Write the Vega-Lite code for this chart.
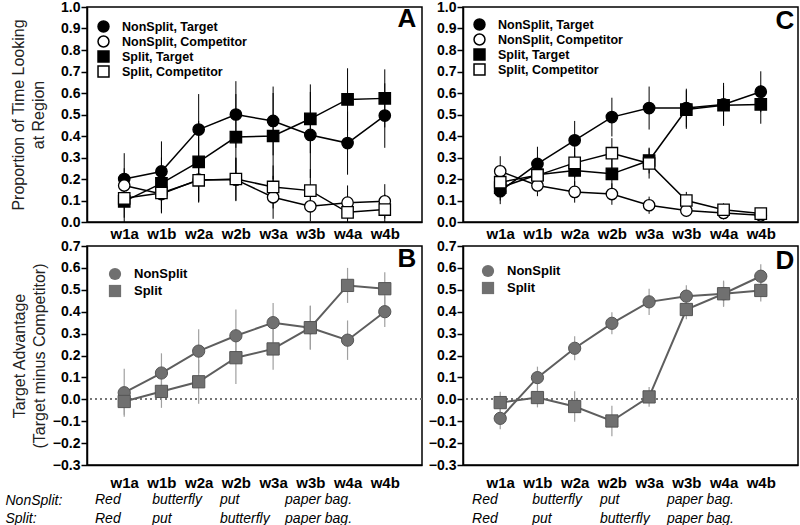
{
  "$schema": "https://vega.github.io/schema/vega-lite/v6.json",
  "padding": {"left": 5, "top": -1, "right": 0, "bottom": 0},
  "background": "white",
  "config": {
    "font": "Liberation Sans",
    "view": {"stroke": "black", "strokeWidth": 1.5},
    "axis": {
      "grid": false,
      "domainColor": "black",
      "domainWidth": 1.5,
      "tickColor": "black",
      "tickWidth": 1.5,
      "tickSize": 6,
      "labelColor": "black",
      "labelFont": "Liberation Sans",
      "labelFontWeight": "bold",
      "labelFontSize": 14,
      "titleFont": "Liberation Sans",
      "titleFontWeight": "normal",
      "titleFontSize": 16,
      "titleColor": "#222222",
      "titleLineHeight": 20
    },
    "legend": {
      "labelFont": "Liberation Sans",
      "labelFontWeight": "bold",
      "labelColor": "black"
    }
  },
  "datasets": {
    "prop": [
      {"p": "A", "w": "w1a", "s": "NonSplit, Target", "y": 0.20, "lo": 0.08, "hi": 0.32},
      {"p": "A", "w": "w1b", "s": "NonSplit, Target", "y": 0.235, "lo": 0.095, "hi": 0.375},
      {"p": "A", "w": "w2a", "s": "NonSplit, Target", "y": 0.43, "lo": 0.265, "hi": 0.595},
      {"p": "A", "w": "w2b", "s": "NonSplit, Target", "y": 0.50, "lo": 0.345, "hi": 0.655},
      {"p": "A", "w": "w3a", "s": "NonSplit, Target", "y": 0.47, "lo": 0.31, "hi": 0.63},
      {"p": "A", "w": "w3b", "s": "NonSplit, Target", "y": 0.405, "lo": 0.205, "hi": 0.605},
      {"p": "A", "w": "w4a", "s": "NonSplit, Target", "y": 0.367, "lo": 0.22, "hi": 0.514},
      {"p": "A", "w": "w4b", "s": "NonSplit, Target", "y": 0.495, "lo": 0.345, "hi": 0.645},
      {"p": "A", "w": "w1a", "s": "NonSplit, Competitor", "y": 0.17, "lo": 0.09, "hi": 0.25},
      {"p": "A", "w": "w1b", "s": "NonSplit, Competitor", "y": 0.13, "lo": 0.04, "hi": 0.22},
      {"p": "A", "w": "w2a", "s": "NonSplit, Competitor", "y": 0.197, "lo": 0.097, "hi": 0.297},
      {"p": "A", "w": "w2b", "s": "NonSplit, Competitor", "y": 0.197, "lo": 0.097, "hi": 0.297},
      {"p": "A", "w": "w3a", "s": "NonSplit, Competitor", "y": 0.115, "lo": 0.015, "hi": 0.215},
      {"p": "A", "w": "w3b", "s": "NonSplit, Competitor", "y": 0.073, "lo": 0.003, "hi": 0.143},
      {"p": "A", "w": "w4a", "s": "NonSplit, Competitor", "y": 0.09, "lo": 0.01, "hi": 0.17},
      {"p": "A", "w": "w4b", "s": "NonSplit, Competitor", "y": 0.096, "lo": 0.016, "hi": 0.176},
      {"p": "A", "w": "w1a", "s": "Split, Target", "y": 0.096, "lo": 0.0, "hi": 0.196},
      {"p": "A", "w": "w1b", "s": "Split, Target", "y": 0.18, "lo": 0.06, "hi": 0.30},
      {"p": "A", "w": "w2a", "s": "Split, Target", "y": 0.28, "lo": 0.09, "hi": 0.47},
      {"p": "A", "w": "w2b", "s": "Split, Target", "y": 0.395, "lo": 0.195, "hi": 0.595},
      {"p": "A", "w": "w3a", "s": "Split, Target", "y": 0.40, "lo": 0.2, "hi": 0.6},
      {"p": "A", "w": "w3b", "s": "Split, Target", "y": 0.48, "lo": 0.32, "hi": 0.64},
      {"p": "A", "w": "w4a", "s": "Split, Target", "y": 0.57, "lo": 0.425, "hi": 0.715},
      {"p": "A", "w": "w4b", "s": "Split, Target", "y": 0.575, "lo": 0.44, "hi": 0.71},
      {"p": "A", "w": "w1a", "s": "Split, Competitor", "y": 0.11, "lo": 0.02, "hi": 0.2},
      {"p": "A", "w": "w1b", "s": "Split, Competitor", "y": 0.135, "lo": 0.045, "hi": 0.225},
      {"p": "A", "w": "w2a", "s": "Split, Competitor", "y": 0.194, "lo": 0.094, "hi": 0.294},
      {"p": "A", "w": "w2b", "s": "Split, Competitor", "y": 0.20, "lo": 0.1, "hi": 0.3},
      {"p": "A", "w": "w3a", "s": "Split, Competitor", "y": 0.163, "lo": 0.063, "hi": 0.263},
      {"p": "A", "w": "w3b", "s": "Split, Competitor", "y": 0.146, "lo": 0.046, "hi": 0.246},
      {"p": "A", "w": "w4a", "s": "Split, Competitor", "y": 0.045, "lo": 0.0, "hi": 0.105},
      {"p": "A", "w": "w4b", "s": "Split, Competitor", "y": 0.058, "lo": 0.0, "hi": 0.128},
      {"p": "C", "w": "w1a", "s": "NonSplit, Target", "y": 0.143, "lo": 0.083, "hi": 0.203},
      {"p": "C", "w": "w1b", "s": "NonSplit, Target", "y": 0.27, "lo": 0.19, "hi": 0.35},
      {"p": "C", "w": "w2a", "s": "NonSplit, Target", "y": 0.38, "lo": 0.29, "hi": 0.47},
      {"p": "C", "w": "w2b", "s": "NonSplit, Target", "y": 0.488, "lo": 0.398, "hi": 0.578},
      {"p": "C", "w": "w3a", "s": "NonSplit, Target", "y": 0.53, "lo": 0.43, "hi": 0.63},
      {"p": "C", "w": "w3b", "s": "NonSplit, Target", "y": 0.53, "lo": 0.44, "hi": 0.62},
      {"p": "C", "w": "w4a", "s": "NonSplit, Target", "y": 0.547, "lo": 0.447, "hi": 0.647},
      {"p": "C", "w": "w4b", "s": "NonSplit, Target", "y": 0.606, "lo": 0.511, "hi": 0.701},
      {"p": "C", "w": "w1a", "s": "NonSplit, Competitor", "y": 0.236, "lo": 0.166, "hi": 0.306},
      {"p": "C", "w": "w1b", "s": "NonSplit, Competitor", "y": 0.17, "lo": 0.12, "hi": 0.22},
      {"p": "C", "w": "w2a", "s": "NonSplit, Competitor", "y": 0.14, "lo": 0.09, "hi": 0.19},
      {"p": "C", "w": "w2b", "s": "NonSplit, Competitor", "y": 0.13, "lo": 0.08, "hi": 0.18},
      {"p": "C", "w": "w3a", "s": "NonSplit, Competitor", "y": 0.078, "lo": 0.038, "hi": 0.118},
      {"p": "C", "w": "w3b", "s": "NonSplit, Competitor", "y": 0.053, "lo": 0.023, "hi": 0.083},
      {"p": "C", "w": "w4a", "s": "NonSplit, Competitor", "y": 0.042, "lo": 0.012, "hi": 0.072},
      {"p": "C", "w": "w4b", "s": "NonSplit, Competitor", "y": 0.031, "lo": 0.011, "hi": 0.051},
      {"p": "C", "w": "w1a", "s": "Split, Target", "y": 0.16, "lo": 0.10, "hi": 0.22},
      {"p": "C", "w": "w1b", "s": "Split, Target", "y": 0.22, "lo": 0.15, "hi": 0.29},
      {"p": "C", "w": "w2a", "s": "Split, Target", "y": 0.24, "lo": 0.17, "hi": 0.31},
      {"p": "C", "w": "w2b", "s": "Split, Target", "y": 0.224, "lo": 0.154, "hi": 0.294},
      {"p": "C", "w": "w3a", "s": "Split, Target", "y": 0.286, "lo": 0.226, "hi": 0.346},
      {"p": "C", "w": "w3b", "s": "Split, Target", "y": 0.523, "lo": 0.433, "hi": 0.613},
      {"p": "C", "w": "w4a", "s": "Split, Target", "y": 0.543, "lo": 0.453, "hi": 0.633},
      {"p": "C", "w": "w4b", "s": "Split, Target", "y": 0.547, "lo": 0.457, "hi": 0.637},
      {"p": "C", "w": "w1a", "s": "Split, Competitor", "y": 0.185, "lo": 0.125, "hi": 0.245},
      {"p": "C", "w": "w1b", "s": "Split, Competitor", "y": 0.217, "lo": 0.157, "hi": 0.277},
      {"p": "C", "w": "w2a", "s": "Split, Competitor", "y": 0.275, "lo": 0.205, "hi": 0.345},
      {"p": "C", "w": "w2b", "s": "Split, Competitor", "y": 0.32, "lo": 0.25, "hi": 0.39},
      {"p": "C", "w": "w3a", "s": "Split, Competitor", "y": 0.272, "lo": 0.202, "hi": 0.342},
      {"p": "C", "w": "w3b", "s": "Split, Competitor", "y": 0.10, "lo": 0.06, "hi": 0.14},
      {"p": "C", "w": "w4a", "s": "Split, Competitor", "y": 0.057, "lo": 0.027, "hi": 0.087},
      {"p": "C", "w": "w4b", "s": "Split, Competitor", "y": 0.039, "lo": 0.019, "hi": 0.059}
    ],
    "adv": [
      {"p": "B", "w": "w1a", "c": "NonSplit", "y": 0.03, "lo": -0.08, "hi": 0.14},
      {"p": "B", "w": "w1b", "c": "NonSplit", "y": 0.12, "lo": 0.03, "hi": 0.21},
      {"p": "B", "w": "w2a", "c": "NonSplit", "y": 0.22, "lo": 0.12, "hi": 0.32},
      {"p": "B", "w": "w2b", "c": "NonSplit", "y": 0.29, "lo": 0.17, "hi": 0.41},
      {"p": "B", "w": "w3a", "c": "NonSplit", "y": 0.35, "lo": 0.26, "hi": 0.44},
      {"p": "B", "w": "w3b", "c": "NonSplit", "y": 0.327, "lo": 0.227, "hi": 0.427},
      {"p": "B", "w": "w4a", "c": "NonSplit", "y": 0.27, "lo": 0.18, "hi": 0.36},
      {"p": "B", "w": "w4b", "c": "NonSplit", "y": 0.40, "lo": 0.33, "hi": 0.47},
      {"p": "B", "w": "w1a", "c": "Split", "y": -0.01, "lo": -0.07, "hi": 0.05},
      {"p": "B", "w": "w1b", "c": "Split", "y": 0.036, "lo": -0.039, "hi": 0.111},
      {"p": "B", "w": "w2a", "c": "Split", "y": 0.08, "lo": -0.02, "hi": 0.18},
      {"p": "B", "w": "w2b", "c": "Split", "y": 0.19, "lo": 0.07, "hi": 0.31},
      {"p": "B", "w": "w3a", "c": "Split", "y": 0.23, "lo": 0.135, "hi": 0.325},
      {"p": "B", "w": "w3b", "c": "Split", "y": 0.327, "lo": 0.227, "hi": 0.427},
      {"p": "B", "w": "w4a", "c": "Split", "y": 0.52, "lo": 0.44, "hi": 0.60},
      {"p": "B", "w": "w4b", "c": "Split", "y": 0.505, "lo": 0.43, "hi": 0.58},
      {"p": "D", "w": "w1a", "c": "NonSplit", "y": -0.087, "lo": -0.137, "hi": -0.037},
      {"p": "D", "w": "w1b", "c": "NonSplit", "y": 0.099, "lo": 0.049, "hi": 0.149},
      {"p": "D", "w": "w2a", "c": "NonSplit", "y": 0.233, "lo": 0.178, "hi": 0.288},
      {"p": "D", "w": "w2b", "c": "NonSplit", "y": 0.347, "lo": 0.297, "hi": 0.397},
      {"p": "D", "w": "w3a", "c": "NonSplit", "y": 0.445, "lo": 0.385, "hi": 0.505},
      {"p": "D", "w": "w3b", "c": "NonSplit", "y": 0.471, "lo": 0.421, "hi": 0.521},
      {"p": "D", "w": "w4a", "c": "NonSplit", "y": 0.482, "lo": 0.422, "hi": 0.542},
      {"p": "D", "w": "w4b", "c": "NonSplit", "y": 0.562, "lo": 0.507, "hi": 0.617},
      {"p": "D", "w": "w1a", "c": "Split", "y": -0.015, "lo": -0.065, "hi": 0.035},
      {"p": "D", "w": "w1b", "c": "Split", "y": 0.008, "lo": -0.037, "hi": 0.053},
      {"p": "D", "w": "w2a", "c": "Split", "y": -0.033, "lo": -0.103, "hi": 0.037},
      {"p": "D", "w": "w2b", "c": "Split", "y": -0.099, "lo": -0.169, "hi": -0.029},
      {"p": "D", "w": "w3a", "c": "Split", "y": 0.011, "lo": -0.034, "hi": 0.056},
      {"p": "D", "w": "w3b", "c": "Split", "y": 0.41, "lo": 0.365, "hi": 0.455},
      {"p": "D", "w": "w4a", "c": "Split", "y": 0.482, "lo": 0.427, "hi": 0.537},
      {"p": "D", "w": "w4b", "c": "Split", "y": 0.497, "lo": 0.447, "hi": 0.547}
    ],
    "words": [
      {"p": "B", "row": "NonSplit:", "word": "Red", "pos": -0.88},
      {"p": "B", "row": "NonSplit:", "word": "butterfly", "pos": 0.69},
      {"p": "B", "row": "NonSplit:", "word": "put", "pos": 2.55},
      {"p": "B", "row": "NonSplit:", "word": "paper bag.", "pos": 4.34},
      {"p": "B", "row": "Split:", "word": "Red", "pos": -0.88},
      {"p": "B", "row": "Split:", "word": "put", "pos": 0.69},
      {"p": "B", "row": "Split:", "word": "butterfly", "pos": 2.55},
      {"p": "B", "row": "Split:", "word": "paper bag.", "pos": 4.34},
      {"p": "D", "row": "NonSplit:", "word": "Red", "pos": -0.85},
      {"p": "D", "row": "NonSplit:", "word": "butterfly", "pos": 0.8},
      {"p": "D", "row": "NonSplit:", "word": "put", "pos": 2.66},
      {"p": "D", "row": "NonSplit:", "word": "paper bag.", "pos": 4.5},
      {"p": "D", "row": "Split:", "word": "Red", "pos": -0.85},
      {"p": "D", "row": "Split:", "word": "put", "pos": 0.8},
      {"p": "D", "row": "Split:", "word": "butterfly", "pos": 2.66},
      {"p": "D", "row": "Split:", "word": "paper bag.", "pos": 4.5}
    ],
    "letters": [
      {"p": "A", "w": "w4b", "v": 0.945},
      {"p": "C", "w": "w4b", "v": 0.935},
      {"p": "B", "w": "w4b", "v": 0.64},
      {"p": "D", "w": "w4b", "v": 0.63}
    ]
  },
  "columns": 2,
  "bounds": "flush",
  "spacing": {"row": 24, "column": 41},
  "resolve": {
    "scale": {"x": "independent", "y": "independent", "shape": "independent", "fill": "independent"},
    "legend": {"shape": "independent", "fill": "independent"}
  },
  "concat": [
    {
      "width": 335, "height": 215,
      "encoding": {
        "x": {"field": "w", "type": "ordinal", "scale": {"type": "point", "padding": 1.1, "domain": ["w1a", "w1b", "w2a", "w2b", "w3a", "w3b", "w4a", "w4b"]}, "axis": {"title": null, "labelAngle": 0, "ticks": false, "labelPadding": 4, "labelFontSize": 15}}
      },
      "layer": [
        {"data": {"name": "prop"}, "transform": [{"filter": "datum.p === 'A'"}],
         "mark": {"type": "rule", "color": "black", "strokeWidth": 1},
         "encoding": {"y": {"field": "lo", "type": "quantitative", "scale": {"domain": [0, 1]}, "title": ["Proportion of Time Looking", "at Region"], "axis": {"tickCount": 10, "format": ".1f", "labelPadding": 1, "titlePadding": 14}}, "y2": {"field": "hi"}, "detail": {"field": "s"}}},
        {"data": {"name": "prop"}, "transform": [{"filter": "datum.p === 'A'"}],
         "mark": {"type": "line", "color": "black", "strokeWidth": 1.5},
         "encoding": {"y": {"field": "y", "type": "quantitative", "title": ["Proportion of Time Looking", "at Region"]}, "detail": {"field": "s"}}},
        {"data": {"name": "prop"}, "transform": [{"filter": "datum.p === 'A'"}],
         "mark": {"type": "point", "filled": true, "size": 130, "stroke": "black", "strokeWidth": 1.3, "opacity": 1},
         "encoding": {
           "y": {"field": "y", "type": "quantitative", "title": ["Proportion of Time Looking", "at Region"]},
           "shape": {"field": "s", "type": "nominal", "scale": {"domain": ["NonSplit, Target", "NonSplit, Competitor", "Split, Target", "Split, Competitor"], "range": ["circle", "circle", "square", "square"]}, "legend": {"title": null, "orient": "none", "legendX": 10, "legendY": 13, "padding": 0, "labelFontSize": 12.5, "rowPadding": -2, "symbolSize": 120, "labelOffset": 12, "encode": {"symbols": {"update": {"stroke": {"value": "black"}, "strokeWidth": {"value": 1.3}}}}}},
           "fill": {"field": "s", "type": "nominal", "scale": {"domain": ["NonSplit, Target", "NonSplit, Competitor", "Split, Target", "Split, Competitor"], "range": ["black", "white", "black", "white"]}, "legend": {"title": null, "orient": "none", "legendX": 10, "legendY": 13, "padding": 0, "labelFontSize": 12.5, "rowPadding": -2, "symbolSize": 120, "labelOffset": 12, "encode": {"symbols": {"update": {"stroke": {"value": "black"}, "strokeWidth": {"value": 1.3}}}}}}
         }},
        {"data": {"name": "letters"}, "transform": [{"filter": "datum.p === 'A'"}],
         "mark": {"type": "text", "fontSize": 26, "fontWeight": "bold", "color": "black", "align": "center", "baseline": "middle", "dx": 22},
         "encoding": {"y": {"field": "v", "type": "quantitative", "title": ["Proportion of Time Looking", "at Region"]}, "text": {"field": "p"}}}
      ]
    },
    {
      "width": 335, "height": 215,
      "encoding": {
        "x": {"field": "w", "type": "ordinal", "scale": {"type": "point", "padding": 1.1, "domain": ["w1a", "w1b", "w2a", "w2b", "w3a", "w3b", "w4a", "w4b"]}, "axis": {"title": null, "labelAngle": 0, "ticks": false, "labelPadding": 4, "labelFontSize": 15}}
      },
      "layer": [
        {"data": {"name": "prop"}, "transform": [{"filter": "datum.p === 'C'"}],
         "mark": {"type": "rule", "color": "black", "strokeWidth": 1},
         "encoding": {"y": {"field": "lo", "type": "quantitative", "scale": {"domain": [0, 1]}, "title": null, "axis": {"tickCount": 10, "format": ".1f", "labelPadding": 1}}, "y2": {"field": "hi"}, "detail": {"field": "s"}}},
        {"data": {"name": "prop"}, "transform": [{"filter": "datum.p === 'C'"}],
         "mark": {"type": "line", "color": "black", "strokeWidth": 1.5},
         "encoding": {"y": {"field": "y", "type": "quantitative", "title": null}, "detail": {"field": "s"}}},
        {"data": {"name": "prop"}, "transform": [{"filter": "datum.p === 'C'"}],
         "mark": {"type": "point", "filled": true, "size": 130, "stroke": "black", "strokeWidth": 1.3, "opacity": 1},
         "encoding": {
           "y": {"field": "y", "type": "quantitative", "title": null},
           "shape": {"field": "s", "type": "nominal", "scale": {"domain": ["NonSplit, Target", "NonSplit, Competitor", "Split, Target", "Split, Competitor"], "range": ["circle", "circle", "square", "square"]}, "legend": {"title": null, "orient": "none", "legendX": 10, "legendY": 11, "padding": 0, "labelFontSize": 12.5, "rowPadding": -2, "symbolSize": 120, "labelOffset": 12, "encode": {"symbols": {"update": {"stroke": {"value": "black"}, "strokeWidth": {"value": 1.3}}}}}},
           "fill": {"field": "s", "type": "nominal", "scale": {"domain": ["NonSplit, Target", "NonSplit, Competitor", "Split, Target", "Split, Competitor"], "range": ["black", "white", "black", "white"]}, "legend": {"title": null, "orient": "none", "legendX": 10, "legendY": 11, "padding": 0, "labelFontSize": 12.5, "rowPadding": -2, "symbolSize": 120, "labelOffset": 12, "encode": {"symbols": {"update": {"stroke": {"value": "black"}, "strokeWidth": {"value": 1.3}}}}}}
         }},
        {"data": {"name": "letters"}, "transform": [{"filter": "datum.p === 'C'"}],
         "mark": {"type": "text", "fontSize": 26, "fontWeight": "bold", "color": "black", "align": "center", "baseline": "middle", "dx": 24},
         "encoding": {"y": {"field": "v", "type": "quantitative", "title": null}, "text": {"field": "p"}}}
      ]
    },
    {
      "width": 335, "height": 219,
      "encoding": {
        "x": {"field": "w", "type": "ordinal", "scale": {"type": "point", "padding": 1.1, "domain": ["w1a", "w1b", "w2a", "w2b", "w3a", "w3b", "w4a", "w4b"]}, "axis": {"title": null, "labelAngle": 0, "ticks": false, "labelPadding": 10, "labelFontSize": 15}}
      },
      "layer": [
        {"data": {"name": "adv"}, "transform": [{"filter": "datum.p === 'B'"}],
         "mark": {"type": "rule", "color": "#777777", "strokeWidth": 1.5, "strokeDash": [2, 3]},
         "encoding": {"x": null, "y": {"datum": 0, "type": "quantitative", "scale": {"domain": [-0.3, 0.7]}, "title": ["Target Advantage", "(Target minus Competitor)"], "axis": {"tickCount": 10, "format": ".1f", "labelPadding": 1, "titlePadding": 5}}}},
        {"data": {"name": "adv"}, "transform": [{"filter": "datum.p === 'B'"}],
         "mark": {"type": "rule", "color": "#a0a0a0", "strokeWidth": 1.2},
         "encoding": {"y": {"field": "lo", "type": "quantitative", "title": ["Target Advantage", "(Target minus Competitor)"]}, "y2": {"field": "hi"}, "detail": {"field": "c"}}},
        {"data": {"name": "adv"}, "transform": [{"filter": "datum.p === 'B'"}],
         "mark": {"type": "line", "color": "#5e5e5e", "strokeWidth": 2},
         "encoding": {"y": {"field": "y", "type": "quantitative", "title": ["Target Advantage", "(Target minus Competitor)"]}, "detail": {"field": "c"}}},
        {"data": {"name": "adv"}, "transform": [{"filter": "datum.p === 'B'"}],
         "mark": {"type": "point", "filled": true, "size": 150, "fill": "#707070", "stroke": "#555555", "strokeWidth": 1, "opacity": 1},
         "encoding": {
           "y": {"field": "y", "type": "quantitative", "title": ["Target Advantage", "(Target minus Competitor)"]},
           "shape": {"field": "c", "type": "nominal", "scale": {"domain": ["NonSplit", "Split"], "range": ["circle", "square"]}, "legend": {"title": null, "orient": "top-left", "offset": 21, "padding": 0, "labelFontSize": 13, "rowPadding": -3, "symbolSize": 150, "symbolFillColor": "#707070", "symbolStrokeColor": "#555555", "labelOffset": 12}}
         }},
        {"data": {"name": "letters"}, "transform": [{"filter": "datum.p === 'B'"}],
         "mark": {"type": "text", "fontSize": 26, "fontWeight": "bold", "color": "black", "align": "center", "baseline": "middle", "dx": 22},
         "encoding": {"y": {"field": "v", "type": "quantitative", "title": ["Target Advantage", "(Target minus Competitor)"]}, "text": {"field": "p"}}}
      ]
    },
    {
      "width": 335, "height": 219,
      "encoding": {
        "x": {"field": "w", "type": "ordinal", "scale": {"type": "point", "padding": 1.1, "domain": ["w1a", "w1b", "w2a", "w2b", "w3a", "w3b", "w4a", "w4b"]}, "axis": {"title": null, "labelAngle": 0, "ticks": false, "labelPadding": 10, "labelFontSize": 15}}
      },
      "layer": [
        {"data": {"name": "adv"}, "transform": [{"filter": "datum.p === 'D'"}],
         "mark": {"type": "rule", "color": "#777777", "strokeWidth": 1.5, "strokeDash": [2, 3]},
         "encoding": {"x": null, "y": {"datum": 0, "type": "quantitative", "scale": {"domain": [-0.3, 0.7]}, "title": null, "axis": {"tickCount": 10, "format": ".1f", "labelPadding": 1}}}},
        {"data": {"name": "adv"}, "transform": [{"filter": "datum.p === 'D'"}],
         "mark": {"type": "rule", "color": "#a0a0a0", "strokeWidth": 1.2},
         "encoding": {"y": {"field": "lo", "type": "quantitative", "title": null}, "y2": {"field": "hi"}, "detail": {"field": "c"}}},
        {"data": {"name": "adv"}, "transform": [{"filter": "datum.p === 'D'"}],
         "mark": {"type": "line", "color": "#5e5e5e", "strokeWidth": 2},
         "encoding": {"y": {"field": "y", "type": "quantitative", "title": null}, "detail": {"field": "c"}}},
        {"data": {"name": "adv"}, "transform": [{"filter": "datum.p === 'D'"}],
         "mark": {"type": "point", "filled": true, "size": 150, "fill": "#707070", "stroke": "#555555", "strokeWidth": 1, "opacity": 1},
         "encoding": {
           "y": {"field": "y", "type": "quantitative", "title": null},
           "shape": {"field": "c", "type": "nominal", "scale": {"domain": ["NonSplit", "Split"], "range": ["circle", "square"]}, "legend": {"title": null, "orient": "top-left", "offset": 18, "padding": 0, "labelFontSize": 13, "rowPadding": -3, "symbolSize": 150, "symbolFillColor": "#707070", "symbolStrokeColor": "#555555", "labelOffset": 12}}
         }},
        {"data": {"name": "letters"}, "transform": [{"filter": "datum.p === 'D'"}],
         "mark": {"type": "text", "fontSize": 26, "fontWeight": "bold", "color": "black", "align": "center", "baseline": "middle", "dx": 24},
         "encoding": {"y": {"field": "v", "type": "quantitative", "title": null}, "text": {"field": "p"}}}
      ]
    },
    {
      "width": 335, "height": 41,
      "view": {"stroke": null},
      "data": {"name": "words"},
      "transform": [{"filter": "datum.p === 'B'"}],
      "mark": {"type": "text", "align": "left", "baseline": "middle", "font": "Liberation Sans", "fontStyle": "italic", "fontSize": 14, "color": "black"},
      "encoding": {
        "x": {"field": "pos", "type": "quantitative", "scale": {"domain": [-1.1, 8.1], "nice": false, "zero": false}, "axis": null},
        "y": {"field": "row", "type": "nominal", "scale": {"type": "point", "padding": 0.58, "domain": ["NonSplit:", "Split:"]}, "axis": {"title": null, "domain": false, "ticks": false, "tickSize": 0, "labelAlign": "left", "labelPadding": 82, "labelFont": "Liberation Sans", "labelFontStyle": "italic", "labelFontWeight": "normal", "labelFontSize": 14}},
        "text": {"field": "word"}
      }
    },
    {
      "width": 335, "height": 41,
      "view": {"stroke": null},
      "data": {"name": "words"},
      "transform": [{"filter": "datum.p === 'D'"}],
      "mark": {"type": "text", "align": "left", "baseline": "middle", "font": "Liberation Sans", "fontStyle": "italic", "fontSize": 14, "color": "black"},
      "encoding": {
        "x": {"field": "pos", "type": "quantitative", "scale": {"domain": [-1.1, 8.1], "nice": false, "zero": false}, "axis": null},
        "y": {"field": "row", "type": "nominal", "scale": {"type": "point", "padding": 0.58, "domain": ["NonSplit:", "Split:"]}, "axis": null},
        "text": {"field": "word"}
      }
    }
  ]
}
